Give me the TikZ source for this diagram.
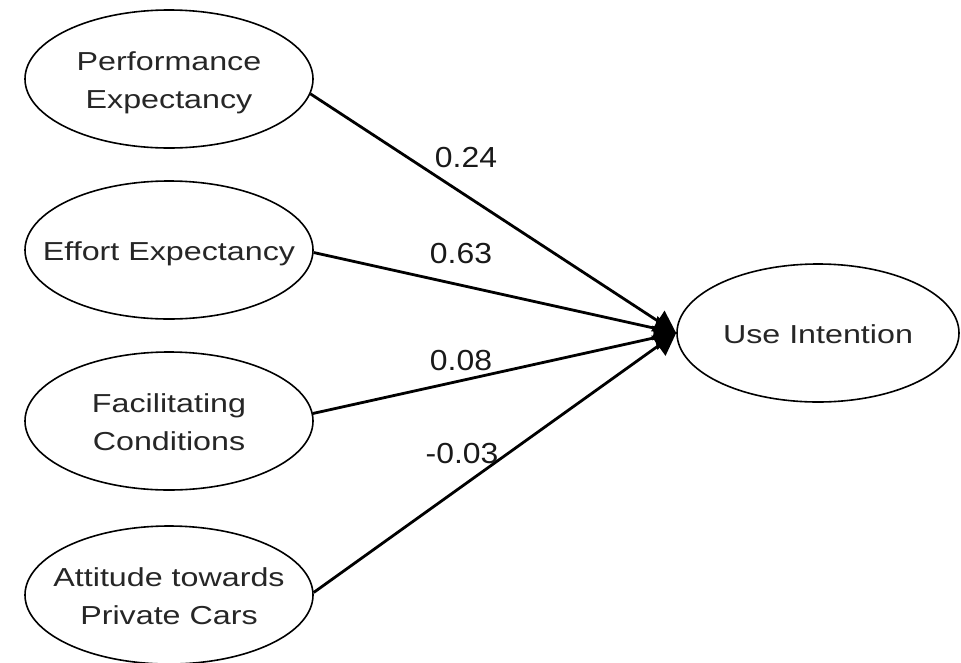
\documentclass[tikz,border=0pt]{standalone}
\usepackage{fontspec}
\setmainfont{Liberation Sans}[FakeStretch=1.24]
\newfontfamily\numfont{Liberation Sans}[FakeStretch=1.1]
\usetikzlibrary{shapes.geometric,arrows.meta}
\newcommand{\ztext}[1]{\raisebox{-3pt}[\height][\depth]{\makebox[0pt]{\begin{tabular}{@{}c@{}}#1\end{tabular}}}}
\begin{document}
\begin{tikzpicture}[x=1pt,y=-1pt,
  construct/.style={ellipse,draw=black,line width=1.6pt,fill=white,
    minimum width=288pt,minimum height=138pt,inner sep=0pt,
    font=\fontsize{26}{38}\selectfont,text=black!85},
  path/.style={line width=2.8pt,-{Triangle[length=22pt,width=24pt]}},
  coef/.style={font=\numfont\fontsize{29}{34}\selectfont,inner sep=0pt,text=black!90}]
\useasboundingbox (0,0) rectangle (961,662);
\node[construct] (pe) at (169,79) {\ztext{Performance\\Expectancy}};
\node[construct] (ee) at (169,250) {\ztext{Effort Expectancy}};
\node[construct] (fc) at (169,421) {\ztext{Facilitating\\Conditions}};
\node[construct] (ac) at (169,595) {\ztext{Attitude towards\\Private Cars}};
\node[construct,minimum width=282pt] (ui) at (818,333) {\ztext{Use Intention}};
\draw[path] (pe.-6) -- (ui.west);
\draw[path] (ee.-1) -- (ui.west);
\draw[path] (fc.3) -- (ui.west);
\draw[path] (ac.1) -- (ui.west);
\node[coef] (l1) at (466,158) {0.24};
\node[coef] (l2) at (461,254) {0.63};
\node[coef] (l3) at (461,361) {0.08};
\node[coef] (l4) at (462,454) {-0.03};
\end{tikzpicture}
\end{document}
